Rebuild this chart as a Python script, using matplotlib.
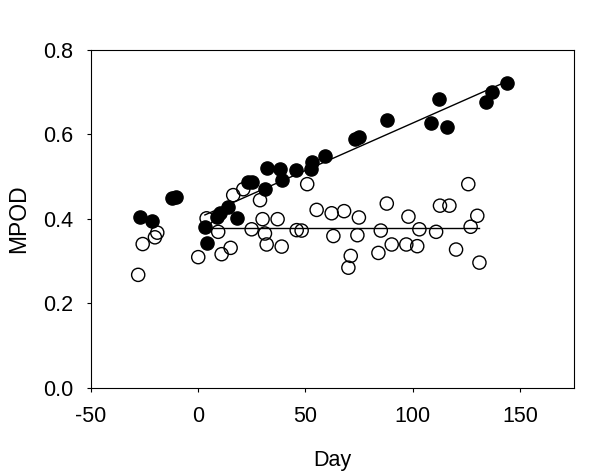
import numpy as np
import matplotlib
matplotlib.use("Agg")
import matplotlib.pyplot as plt

plt.rcParams['font.family'] = ['Liberation Sans', 'DejaVu Sans']
plt.rcParams['axes.unicode_minus'] = False

# Filled circles (group 1)
filled_day = [-27.2, -21.7, -12.3, -10.5, 3.1, 3.9, 8.6, 10.1, 14.0, 17.9, 23.0, 25.0,
              31.1, 32.2, 38.1, 38.9, 45.5, 52.4, 52.9, 59.1, 73.0, 75.0, 87.9,
              108.5, 112.4, 116.1, 134.2, 137.1, 144.1]
filled_mpod = [0.403, 0.395, 0.450, 0.452, 0.380, 0.342, 0.405, 0.413, 0.428, 0.401, 0.486, 0.488,
               0.470, 0.521, 0.519, 0.493, 0.515, 0.519, 0.535, 0.549, 0.588, 0.593, 0.634,
               0.627, 0.685, 0.618, 0.677, 0.700, 0.722]

# Open circles (group 2)
open_day = [-28.0, -25.9, -20.2, -19.1, 0.0, 3.9, 9.3, 10.9, 15.1, 16.3, 21.0, 24.9, 28.8,
            30.0, 31.1, 31.9, 37.0, 38.9, 45.9, 48.2, 50.8, 55.2, 62.2, 63.0, 68.0, 70.0,
            71.1, 74.2, 74.9, 84.0, 85.1, 87.9, 90.2, 97.0, 98.0, 102.1, 103.1, 110.9,
            112.7, 117.1, 120.2, 125.9, 127.0, 130.1, 131.1]
open_mpod = [0.267, 0.340, 0.356, 0.367, 0.309, 0.401, 0.369, 0.316, 0.331, 0.456, 0.470, 0.375, 0.444,
             0.399, 0.365, 0.339, 0.399, 0.334, 0.373, 0.372, 0.482, 0.421, 0.413, 0.359, 0.418, 0.284,
             0.312, 0.361, 0.403, 0.319, 0.372, 0.436, 0.339, 0.339, 0.405, 0.335, 0.375, 0.369,
             0.431, 0.431, 0.327, 0.482, 0.381, 0.407, 0.296]

# Regression lines (start/end day, MPOD)
filled_fit_day = [3.1, 144.1]
filled_fit_mpod = [0.409, 0.726]
open_fit_day = [3.9, 131.1]
open_fit_mpod = [0.379, 0.379]

xticks = [-50, 0, 50, 100, 150]
yticks = [0.0, 0.2, 0.4, 0.6, 0.8]

fig = plt.figure(figsize=(6.0, 4.72), dpi=100)
ax = fig.add_axes([91/600, 1-387.5/472, (573.6-91)/600, (387.5-50)/472])

ax.plot(open_fit_day, open_fit_mpod, color='black', lw=1.0, zorder=2)
ax.plot(filled_fit_day, filled_fit_mpod, color='black', lw=1.0, zorder=2)
ax.scatter(open_day, open_mpod, s=90, facecolors='none', edgecolors='black', linewidths=1.0, zorder=3)
ax.scatter(filled_day, filled_mpod, s=90, color='black', zorder=4)

ax.set_xlim(-50, 175)
ax.set_ylim(0.0, 0.8)
ax.set_xticks(xticks)
ax.set_yticks(yticks)
ax.set_xticklabels([str(v) for v in xticks])
ax.set_yticklabels([f"{v:.1f}" for v in yticks])
ax.tick_params(direction='out', length=3, width=0.8, labelsize=15.5, pad=10)
for sp in ax.spines.values():
    sp.set_linewidth(0.8)
ax.set_xlabel('Day', fontsize=15.5, labelpad=17)
ax.set_ylabel('MPOD', fontsize=16.5, labelpad=9)

fig.savefig('out.png', dpi=100)
